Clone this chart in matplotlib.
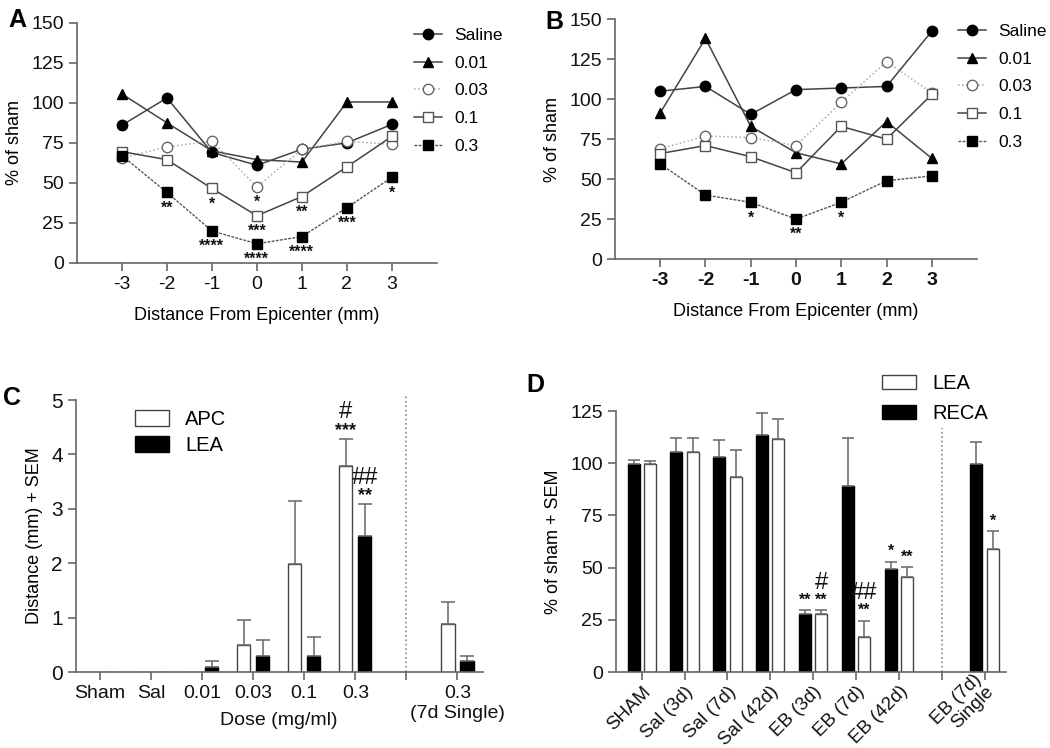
import matplotlib
matplotlib.use("Agg")
import matplotlib.pyplot as plt
import numpy as np

plt.rcParams['font.family'] = ['Liberation Sans', 'DejaVu Sans']

# ---- data ----
dist = [-3, -2, -1, 0, 1, 2, 3]
series_names = ['Saline', '0.01', '0.03', '0.1', '0.3']

a_saline = [86, 103, 69, 61, 71, 75, 86.5]
a_001 = [105.5, 87.5, 70, 64.5, 63, 100.5, 100.5]
a_003 = [65.5, 72.5, 76, 47.5, 71, 76, 74]
a_01 = [69.5, 64.5, 46.5, 29.5, 41.5, 60, 79]
a_03 = [67, 44, 20, 12, 16.5, 34.5, 53.5]
a_stars_003 = ['', '', '', '*', '', '', '']
a_stars_01 = ['', '', '*', '***', '**', '', '']
a_stars_03 = ['', '**', '****', '****', '****', '***', '*']

b_saline = [105, 108, 90.5, 106, 107, 108, 142.5]
b_001 = [91.5, 138, 83, 66.5, 59.5, 86, 63]
b_003 = [69, 77, 76, 71, 98, 123.5, 104]
b_01 = [66, 71, 64, 54, 83, 75, 103]
b_03 = [59.5, 40, 35.5, 25, 35.5, 49, 52]
b_stars_03 = ['', '', '*', '**', '*', '', '']

c_pos = [0, 1, 2, 3, 4, 5, 7]
c_ticks = [0, 1, 2, 3, 4, 5, 6, 7]
c_labels = ['Sham', 'Sal', '0.01', '0.03', '0.1', '0.3', '', '0.3\n(7d Single)']
c_apc = [0, 0, 0, 0.49, 1.99, 3.79, 0.89]
c_apc_err = [0, 0, 0, 0.46, 1.16, 0.5, 0.4]
c_lea = [0, 0, 0.09, 0.29, 0.29, 2.5, 0.2]
c_lea_err = [0, 0, 0.12, 0.29, 0.35, 0.58, 0.09]
c_apc_stars = ['', '', '', '', '', '***', '']
c_apc_hash = ['', '', '', '', '', '#', '']
c_lea_stars = ['', '', '', '', '', '**', '']
c_lea_hash = ['', '', '', '', '', '##', '']

d_pos = [0, 1, 2, 3, 4, 5, 6, 8]
d_ticks = [0, 1, 2, 3, 4, 5, 6, 7, 8]
d_labels = ['SHAM', 'Sal (3d)', 'Sal (7d)', 'Sal (42d)', 'EB (3d)', 'EB (7d)',
            'EB (42d)', '', 'EB (7d)\nSingle']
d_reca = [99.8, 105.6, 102.9, 113.4, 27.7, 89.3, 49.4, 99.7]
d_reca_err = [1.6, 6.4, 8.4, 10.8, 1.9, 23, 3.5, 10.3]
d_lea = [99.7, 105.6, 93.5, 111.8, 27.9, 17, 45.5, 58.9]
d_lea_err = [1.3, 6.4, 12.7, 9.4, 1.7, 7.5, 4.7, 8.6]
d_reca_stars = ['', '', '', '', '**', '', '*', '']
d_lea_stars = ['', '', '', '', '**', '**', '**', '*']
d_lea_hash = ['', '', '', '', '#', '##', '', '']

axis_col = '#666666'
line_col = '#444444'
text_col = '#111111'

fig = plt.figure(figsize=(10.5, 7.48), dpi=100)


def style_axes(ax, ticksize=14):
    for s in ['top', 'right']:
        ax.spines[s].set_visible(False)
    for s in ['left', 'bottom']:
        ax.spines[s].set_color(axis_col)
        ax.spines[s].set_linewidth(1.2)
    ax.tick_params(colors=axis_col, labelcolor=text_col, labelsize=ticksize,
                   direction='out', length=6, width=1.2)


def line_panel(ax, sal, d001, d003, d01, d03, stars, bold_x=False):
    h1, = ax.plot(dist, sal, '-o', color=line_col, lw=1.1, ms=7.5, mfc='black', mec='black')
    h2, = ax.plot(dist, d001, '-^', color=line_col, lw=1.1, ms=7.5, mfc='black', mec='black')
    h3, = ax.plot(dist, d003, ':o', color='#aaaaaa', lw=1.1, ms=7.5, mfc='white', mec='#666666')
    h4, = ax.plot(dist, d01, '-s', color=line_col, lw=1.1, ms=7.5, mfc='white', mec='#555555')
    h5, = ax.plot(dist, d03, '--s', color='#555555', lw=1.0, dashes=(2, 1), ms=7.5,
                  mfc='black', mec='black')
    for vals, st in stars:
        for x, v, s in zip(dist, vals, st):
            if s:
                ax.text(x, v - 5, s, ha='center', va='top', fontsize=11.5,
                        fontweight='bold', color=text_col)
    ax.set_xlim(-4, 4)
    ax.set_ylim(0, 150)
    ax.set_xticks(dist)
    ax.set_xticklabels([str(x) for x in dist], fontweight='bold' if bold_x else 'normal')
    ax.set_yticks([0, 25, 50, 75, 100, 125, 150])
    ax.set_ylabel('% of sham', fontsize=13, labelpad=6)
    ax.set_xlabel('Distance From Epicenter (mm)', fontsize=13, labelpad=10)
    style_axes(ax, ticksize=14)
    return [h1, h2, h3, h4, h5]


def marks(ax, xs, vals, errs, stars, hashes, star_off, hash_off, star_size):
    for i, x in enumerate(xs):
        top = vals[i] + errs[i]
        if stars[i]:
            ax.annotate(stars[i], (x, top), xytext=(0, star_off), textcoords='offset points',
                        ha='center', va='bottom', fontsize=star_size, fontweight='bold',
                        color=text_col, annotation_clip=False)
        if hashes[i]:
            ax.annotate(hashes[i], (x, top), xytext=(0, hash_off), textcoords='offset points',
                        ha='center', va='bottom', fontsize=17, color=text_col,
                        annotation_clip=False)


# ---- panel A ----
axA = fig.add_axes([0.0733, 0.6484, 0.3428, 0.3213])
hA = line_panel(axA, a_saline, a_001, a_003, a_01, a_03,
                [(a_003, a_stars_003), (a_01, a_stars_01), (a_03, a_stars_03)])
fig.legend(hA, series_names, loc='upper left', bbox_to_anchor=(414 / 1050, 1 - 28 / 748),
           frameon=False, fontsize=12.5, handlelength=1.6, handletextpad=0.7,
           labelspacing=0.72, borderpad=0, borderaxespad=0)

# ---- panel B ----
axB = fig.add_axes([0.5857, 0.6537, 0.3448, 0.3205])
hB = line_panel(axB, b_saline, b_001, b_003, b_01, b_03, [(b_03, b_stars_03)], bold_x=True)
fig.legend(hB, series_names, loc='upper left', bbox_to_anchor=(958 / 1050, 1 - 24 / 748),
           frameon=False, fontsize=12.5, handlelength=1.6, handletextpad=0.7,
           labelspacing=0.72, borderpad=0, borderaxespad=0)

# ---- panel C ----
axC = fig.add_axes([0.0724, 0.1016, 0.3876, 0.3636])
off, w = 0.186, 0.26
xc = np.array(c_pos, dtype=float)
axC.bar(xc - off, c_apc, w, color='white', edgecolor=line_col, lw=1, label='APC')
axC.bar(xc + off, c_lea, w, color='black', edgecolor='black', lw=1, label='LEA')
for xs, vals, errs in [(xc - off, c_apc, c_apc_err), (xc + off, c_lea, c_lea_err)]:
    for x, v, e in zip(xs, vals, errs):
        if e > 0:
            axC.errorbar(x, v, yerr=[[0], [e]], fmt='none', ecolor=axis_col, elinewidth=1.1,
                         capsize=5, capthick=1.1)
marks(axC, xc - off, c_apc, c_apc_err, c_apc_stars, c_apc_hash, 0, 11, 13)
marks(axC, xc + off, c_lea, c_lea_err, c_lea_stars, c_lea_hash, 0, 11, 13)
axC.plot([6, 6], [0, 5.1], ls=':', color='#888888', lw=1.2, clip_on=False)
axC.set_xlim(-0.47, 7.5)
axC.set_ylim(0, 5)
axC.set_xticks(c_ticks)
axC.set_xticklabels(c_labels)
axC.set_yticks([0, 1, 2, 3, 4, 5])
style_axes(axC, ticksize=15)
axC.tick_params(axis='x', labelsize=14)
axC.set_ylabel('Distance (mm) + SEM', fontsize=13, labelpad=6)
axC.text(3.5, -0.74, 'Dose (mg/ml)', ha='center', va='top', fontsize=14, color=text_col)
axC.legend(loc='upper left', bbox_to_anchor=(135 / 1050, 1 - 410 / 748),
           bbox_transform=fig.transFigure, frameon=False, fontsize=14.5,
           handlelength=1.7, handleheight=0.8, handletextpad=0.8, labelspacing=0.35,
           borderpad=0, borderaxespad=0)

# ---- panel D ----
axD = fig.add_axes([0.5867, 0.1016, 0.3714, 0.3489])
offd, wd = 0.19, 0.28
xd = np.array(d_pos, dtype=float)
bd1 = axD.bar(xd - offd, d_reca, wd, color='black', edgecolor='black', lw=1, label='RECA')
bd2 = axD.bar(xd + offd, d_lea, wd, color='white', edgecolor=line_col, lw=1, label='LEA')
for xs, vals, errs in [(xd - offd, d_reca, d_reca_err), (xd + offd, d_lea, d_lea_err)]:
    axD.errorbar(xs, vals, yerr=[np.zeros(len(errs)), errs], fmt='none', ecolor=axis_col,
                 elinewidth=1.1, capsize=4, capthick=1.1, clip_on=False)
marks(axD, xd - offd, d_reca, d_reca_err, d_reca_stars, [''] * 8, 2, 12, 11.5)
marks(axD, xd + offd, d_lea, d_lea_err, d_lea_stars, d_lea_hash, 2, 12, 11.5)
axD.plot([7, 7], [0, 117], ls=':', color='#888888', lw=1.2)
axD.set_xlim(-0.6, 8.5)
axD.set_ylim(0, 125)
axD.set_xticks(d_ticks)
axD.set_xticklabels(d_labels, rotation=45, ha='right', rotation_mode='anchor',
                    multialignment='right', linespacing=1.0)
last = axD.get_xticklabels()[-1]
last.set_va('center')
last.set_fontsize(13)
axD.set_yticks([0, 25, 50, 75, 100, 125])
style_axes(axD, ticksize=14)
axD.tick_params(axis='x', labelsize=13.5, pad=2)
axD.set_ylabel('% of sham + SEM', fontsize=13, labelpad=6)
axD.legend([bd2, bd1], ['LEA', 'RECA'], loc='upper left',
           bbox_to_anchor=(882 / 1050, 1 - 374 / 748), bbox_transform=fig.transFigure,
           frameon=False, fontsize=14.5, handlelength=1.7, handleheight=0.75,
           handletextpad=0.8, labelspacing=0.55, borderpad=0, borderaxespad=0)

# panel letters
for s, x, y in [('A', 8, 8), ('B', 545, 10), ('C', 3, 386), ('D', 526, 373)]:
    fig.text(x / 1050, 1 - y / 748, s, fontsize=18, fontweight='bold', va='top', ha='left')

fig.savefig('out.png', dpi=100)
